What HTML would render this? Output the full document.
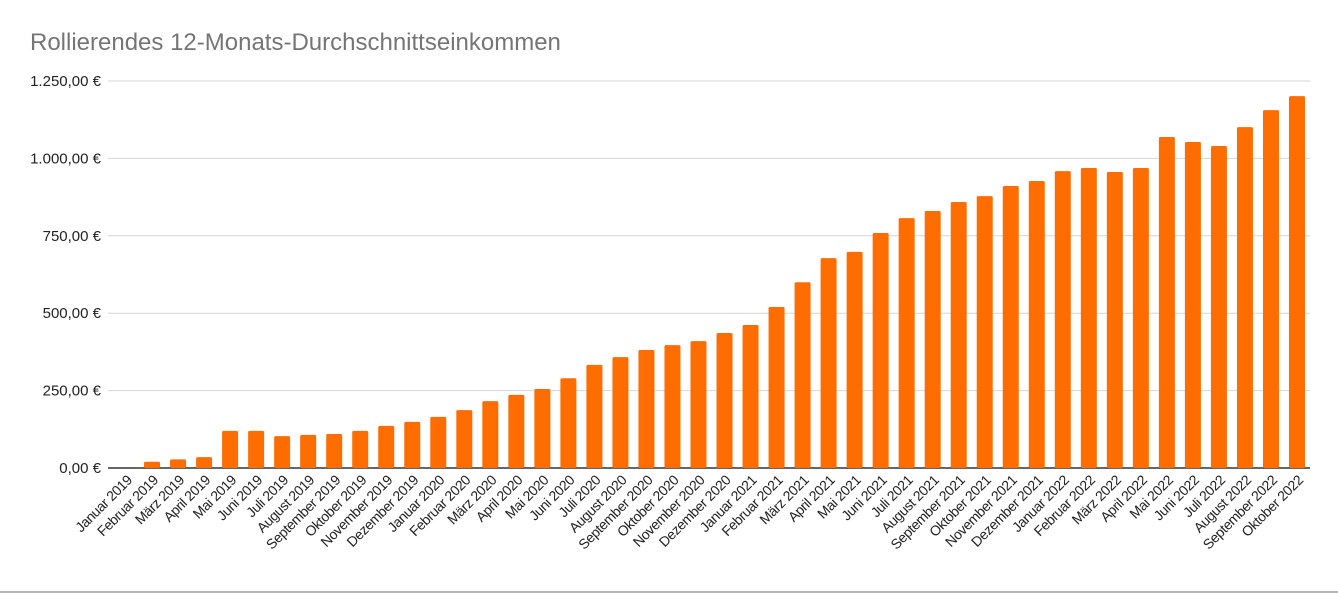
<!DOCTYPE html>
<html><head><meta charset="utf-8"><style>
html,body{margin:0;padding:0;background:#fff;}
svg{display:block;font-family:"Liberation Sans",Arial,sans-serif;}
</style></head><body>
<svg id="chart" width="1338" height="593" viewBox="0 0 1338 593" xmlns="http://www.w3.org/2000/svg">
<text x="30" y="50" font-size="24" fill="#757575">Rollierendes 12-Monats-Durchschnittseinkommen</text>
<g id="grid"></g><g id="bars"></g><g id="xlabels"></g>
<line x1="0" y1="592" x2="1338" y2="592" stroke="#9e9e9e" stroke-width="1.5"/>
</svg>
<script>
const categories = ["Januar 2019","Februar 2019","März 2019","April 2019","Mai 2019","Juni 2019","Juli 2019","August 2019","September 2019","Oktober 2019","November 2019","Dezember 2019","Januar 2020","Februar 2020","März 2020","April 2020","Mai 2020","Juni 2020","Juli 2020","August 2020","September 2020","Oktober 2020","November 2020","Dezember 2020","Januar 2021","Februar 2021","März 2021","April 2021","Mai 2021","Juni 2021","Juli 2021","August 2021","September 2021","Oktober 2021","November 2021","Dezember 2021","Januar 2022","Februar 2022","März 2022","April 2022","Mai 2022","Juni 2022","Juli 2022","August 2022","September 2022","Oktober 2022"];
const values = [0,20,28,35,120,120,103,107,110,120,136,149,165,187,216,236,255,290,333,358,381,397,410,436,462,520,600,678,698,759,807,830,859,878,911,927,959,969,956,969,1069,1053,1040,1101,1156,1201];
const yTicks = [0,250,500,750,1000,1250];
const yTickLabels = ["0,00 €","250,00 €","500,00 €","750,00 €","1.000,00 €","1.250,00 €"];

const NS="http://www.w3.org/2000/svg";
const x0=113,x1=1310,y0=468,yTop=81,yMax=1250;
const step=(x1-x0)/categories.length;
const xC=i=>x0+step*(i+0.5);
const yS=v=>y0-(v/yMax)*(y0-yTop);
const grid=document.getElementById('grid'),bars=document.getElementById('bars'),xl=document.getElementById('xlabels');
yTicks.forEach((t,i)=>{
  const l=document.createElementNS(NS,'line');
  
  
  l.setAttribute('x1',108);l.setAttribute('x2',x1);l.setAttribute('y1',yS(t));l.setAttribute('y2',yS(t));
  l.setAttribute('stroke',t===0?'#333':'#d6d6d6');l.setAttribute('stroke-width',t===0?1.5:1);
  grid.appendChild(l);
  const tx=document.createElementNS(NS,'text');
  
  
  tx.setAttribute('x',101);tx.setAttribute('y',yS(t)+5);tx.setAttribute('text-anchor','end');
  tx.setAttribute('font-size','15');tx.setAttribute('fill','#222');
  tx.textContent=yTickLabels[i];grid.appendChild(tx);
});
const bw=16;
values.forEach((v,i)=>{
  const h=y0-yS(v);
  if(h>0){
    const r=document.createElementNS(NS,'rect');
    
    
    r.setAttribute('x',xC(i)-bw/2);r.setAttribute('y',yS(v));r.setAttribute('width',bw);r.setAttribute('height',h);
    r.setAttribute('fill','#ff6d01');r.setAttribute('rx',1.5);
    bars.appendChild(r);
  }
  const t=document.createElementNS(NS,'text');
  
  
  const lx=xC(i)+7,ly=481;
  t.setAttribute('x',lx);t.setAttribute('y',ly);t.setAttribute('text-anchor','end');
  t.setAttribute('font-size','14');t.setAttribute('fill','#222');t.setAttribute('letter-spacing','-0.4');
  t.setAttribute('transform','rotate(-45 '+lx+' '+ly+')');
  t.textContent=categories[i];xl.appendChild(t);
});
</script>
</body></html>
